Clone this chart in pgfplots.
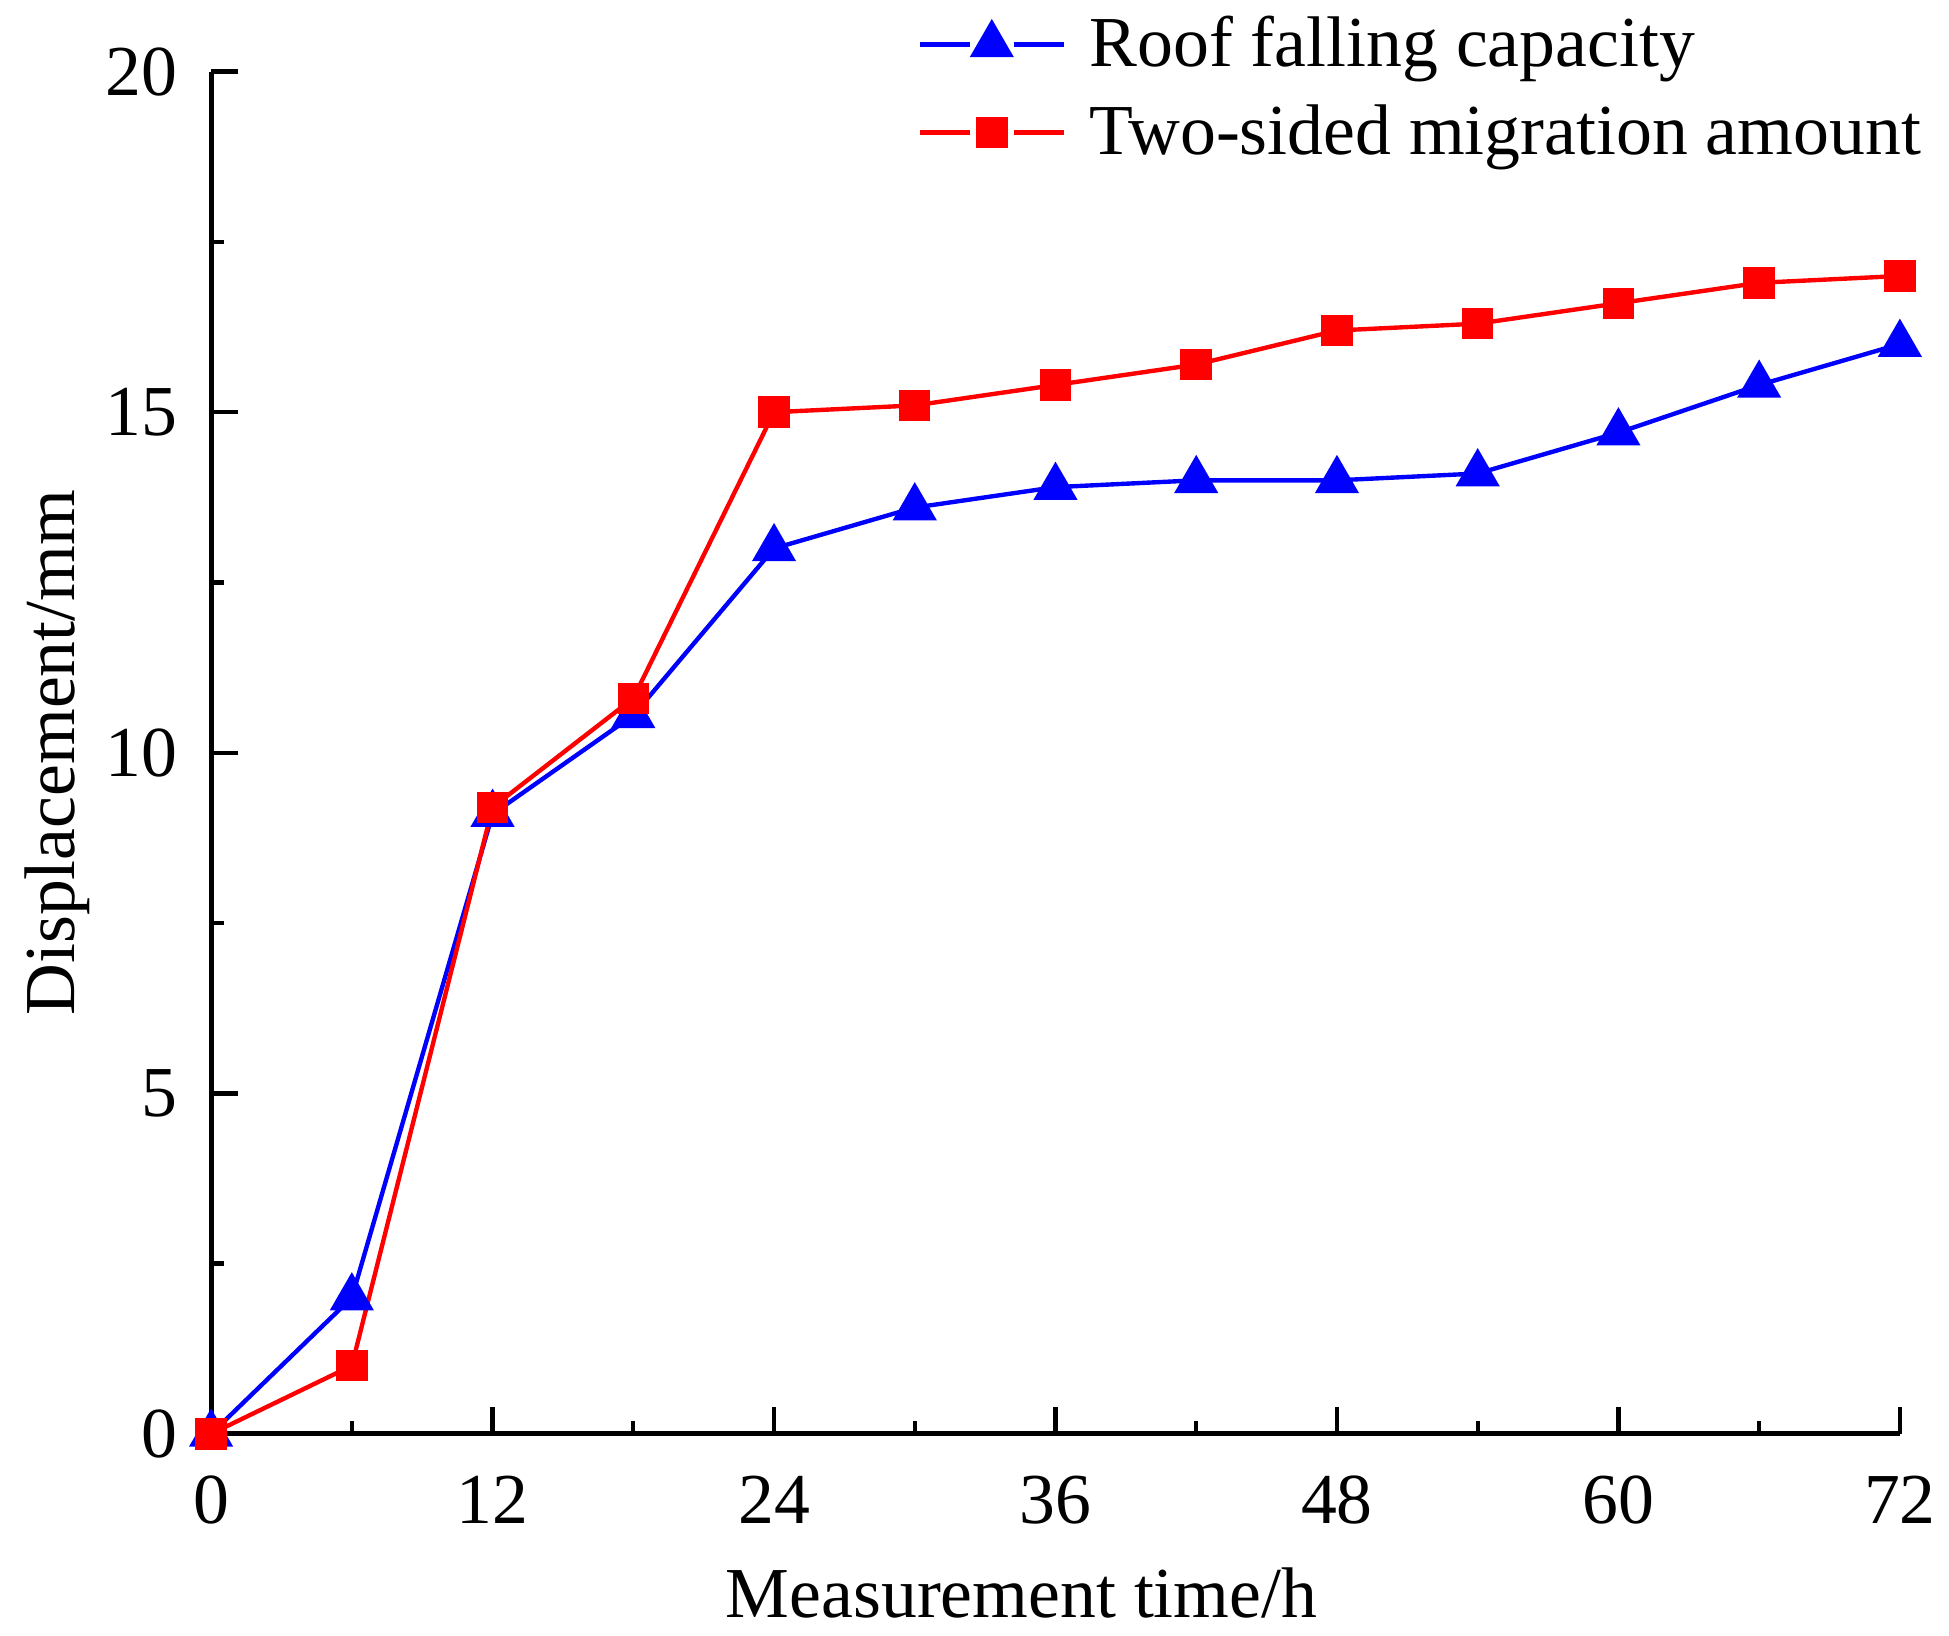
\documentclass[border=0pt]{standalone}
\usepackage{pgfplots}
\pgfplotsset{compat=1.18}
\usepackage{fontspec}
\setmainfont{Liberation Serif}
\newcommand\bigf{\fontsize{18}{21}\selectfont}
\begin{document}
\begin{tikzpicture}
\begin{axis}[
  width=424pt, height=342pt, scale only axis,
  xmin=0, xmax=72, ymin=0, ymax=20,
  xtick={0,12,...,72}, ytick={0,5,...,20},
  minor x tick num=1, minor y tick num=1,
  axis lines*=left,
  axis line style={line width=1.25pt},
  tick align=inside,
  major tick length=6.8pt, minor tick length=3.3pt,
  every tick/.style={black, line width=1.1pt},
  tick label style={font=\bigf},
  /pgf/number format/assume math mode=true,
  xticklabel style={yshift=-7pt},
  yticklabel style={xshift=-5pt},
  xlabel={Measurement time/h},
  ylabel={Displacement/mm},
  label style={font=\bigf},
  xlabel style={yshift=-4pt, xshift=-8.5pt},
  ylabel style={yshift=-3pt},
  clip=false,
  legend style={draw=none, fill=none, font=\bigf, at={(0.411,1.053)}, anchor=north west, row sep=4pt, column sep=4pt},
  legend cell align=left,
  legend image code/.code={\draw[#1] (0pt,0pt)--(12.5pt,0pt); \draw[#1] (23.5pt,0pt)--(36pt,0pt); \draw[#1] plot coordinates {(18pt,0pt)};},
]
\addplot[color={rgb,255:red,0;green,0;blue,255}, line width=1.1pt, mark=triangle*, mark size=5.3pt, mark options={solid}] coordinates {
(0,0) (6,2.0) (12,9.1) (18,10.55) (24,13.0) (30,13.6) (36,13.9) (42,14.0) (48,14.0) (54,14.1) (60,14.7) (66,15.4) (72,16.0)
};
\addlegendentry{Roof falling capacity}
\addplot[color={rgb,255:red,255;green,0;blue,0}, line width=1.1pt, mark=square*, mark size=3.4pt, mark options={solid}] coordinates {
(0,0) (6,1.0) (12,9.2) (18,10.8) (24,15.0) (30,15.1) (36,15.4) (42,15.7) (48,16.2) (54,16.3) (60,16.6) (66,16.9) (72,17.0)
};
\addlegendentry{Two-sided migration amount}
\path (rel axis cs:0,0) ++(-53pt,-50.5pt) coordinate (bbA);
\path (rel axis cs:1,1) ++(10pt,18pt) coordinate (bbB);
\end{axis}
\path (bbA) rectangle (bbB);
\end{tikzpicture}
\end{document}
